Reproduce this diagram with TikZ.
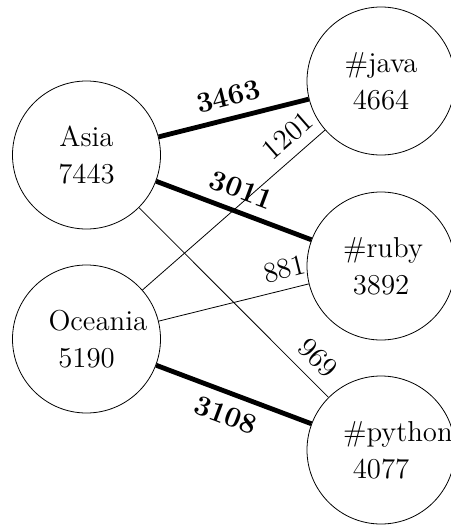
\documentclass[tikz,border=0pt]{standalone}
\begin{document}
\begin{tikzpicture}[x=0.5pt,y=-0.5pt]
\useasboundingbox (0,0) rectangle (450,525);
\tikzset{
  country/.style={circle,draw,minimum size=74pt,inner sep=0pt,text width=38pt,align=center,font=\fontsize{14.4}{18.5}\selectfont},
  heavy/.style={line width=2.4pt},
  lbl/.style={sloped,inner sep=5pt,font=\fontsize{14.4}{18}\selectfont},
  lblb/.style={sloped,inner sep=5pt,font=\fontsize{14.4}{18}\selectfont\bfseries},
}
\node[country] (asia) at (86.5,155) {Asia\\7443};
\node[country] (oceania) at (86.5,339) {Oceania\\5190};
\node[country] (java) at (381,81) {\#java\\4664};
\node[country] (ruby) at (381,266) {\#ruby\\3892};
\node[country] (python) at (381,450) {\#python\\4077};
\draw[heavy] (asia) -- node[lblb,above] {3463} (java);
\draw[heavy] (asia) -- node[lblb,above] {3011} (ruby);
\draw (asia) -- node[lbl,above,pos=0.87] {969} (python);
\draw (oceania) -- node[lbl,above,pos=0.87] {1201} (java);
\draw (oceania) -- node[lbl,above,pos=0.87] {881} (ruby);
\draw[heavy] (oceania) -- node[lblb,below] {3108} (python);
\end{tikzpicture}
\end{document}
